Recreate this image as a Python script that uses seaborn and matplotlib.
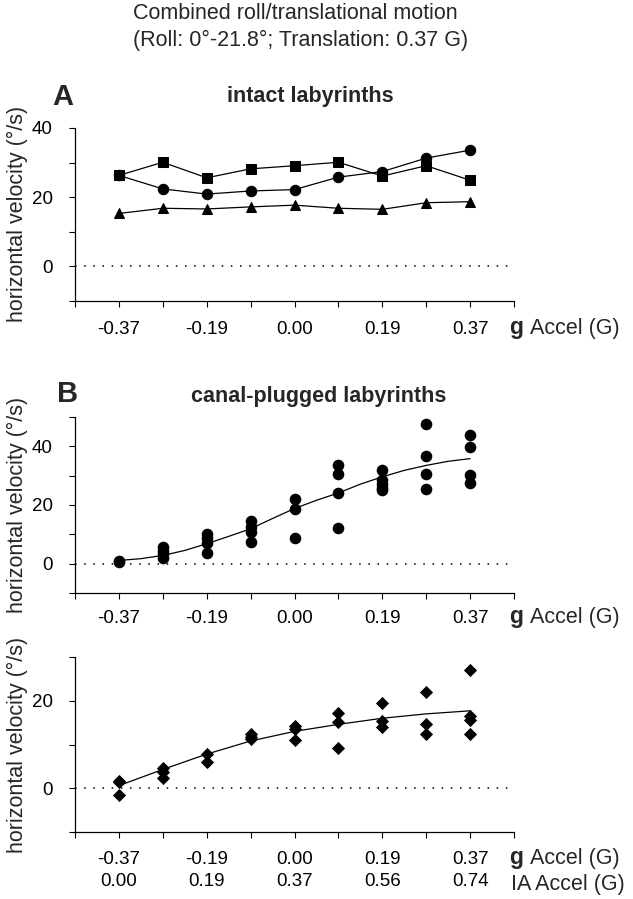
import pandas as pd
import matplotlib
matplotlib.use("Agg")
import matplotlib.pyplot as plt
import seaborn as sns

# x positions are the 9 acceleration steps
steps = list(range(9))
g_labels = ["-0.37", "-0.19", "0.00", "0.19", "0.37"]
ia_labels = ["0.00", "0.19", "0.37", "0.56", "0.74"]

# Panel A - intact labyrinths
intact_square = [26.3, 30.1, 25.6, 28.2, 29.1, 30.1, 26.1, 29.1, 24.9]
intact_circle = [26.3, 22.4, 20.9, 21.8, 22.2, 25.8, 27.4, 31.3, 33.6]
intact_triangle = [15.3, 16.8, 16.6, 17.2, 17.7, 16.8, 16.5, 18.4, 18.7]

# Panel B - canal-plugged labyrinths (points per step)
plugged_circles = [
    [1.0, 0.6],
    [5.7, 4.4, 3.2, 1.9],
    [10.2, 8.9, 7.2, 3.8],
    [14.5, 12.5, 10.8, 7.4],
    [22.2, 18.8, 8.9],
    [33.5, 30.5, 24.1, 12.1],
    [31.8, 28.4, 27.1, 25.9, 25.0],
    [47.5, 36.6, 30.7, 25.6],
    [43.9, 39.8, 30.1, 27.5],
]
circle_fit_x = [0, 0.5, 1, 1.5, 2, 2.5, 3, 3.5, 4, 4.5, 5, 5.5, 6, 6.5, 7, 7.5, 8]
circle_fit = [1.1, 1.7, 2.8, 4.5, 6.8, 9.3, 11.9, 15.4, 18.8, 21.6, 24.1,
              27.1, 29.6, 31.8, 33.5, 34.9, 35.8]

plugged_diamonds = [
    [1.7, 1.4, -1.5],
    [4.6, 3.7, 2.3],
    [7.8, 6.0],
    [12.4, 11.8, 11.2],
    [14.3, 13.6, 11.1],
    [17.3, 15.2, 9.3],
    [19.5, 15.4, 13.9],
    [22.0, 14.6, 12.4],
    [27.1, 16.5, 15.6, 12.4],
]
diamond_fit = [0.6, 4.3, 7.8, 10.8, 13.0, 14.6, 16.0, 17.0, 17.7]


def flatten(groups):
    xs, ys = [], []
    for i, vals in enumerate(groups):
        for v in vals:
            xs.append(i)
            ys.append(v)
    return pd.DataFrame({"step": xs, "vel": ys})


sns.set_style("ticks")
plt.rcParams["font.family"] = ["Liberation Sans", "DejaVu Sans"]
plt.rcParams["font.size"] = 13

W, H = 633, 899
fig = plt.figure(figsize=(W / 100, H / 100), dpi=100)

LABEL_FS = 15.5
TICK_FS = 13.5


def px_axes(top, bottom, left=75, right=514):
    return fig.add_axes([left / W, 1 - bottom / H, (right - left) / W, (bottom - top) / H])


def style_axes(ax, ylim, yticks, ylabels, xpad, two_rows=False):
    ax.set_xlim(-1, 9)
    ax.set_ylim(*ylim)
    for s in ["top", "right"]:
        ax.spines[s].set_visible(False)
    for s in ["left", "bottom"]:
        ax.spines[s].set_color("black")
        ax.spines[s].set_linewidth(0.9)
    ax.set_xticks(list(range(-1, 10)))
    labs = [""] * 11
    for k, lab in enumerate(g_labels):
        labs[1 + 2 * k] = lab + ("\n" + ia_labels[k] if two_rows else "")
    ax.set_xticklabels(labs)
    ax.set_yticks(yticks)
    ax.set_yticklabels(ylabels)
    ax.tick_params(axis="both", direction="out", length=4, width=0.8,
                   color="black", labelsize=TICK_FS, labelcolor="black")
    ax.tick_params(axis="x", pad=xpad)
    ax.tick_params(axis="y", pad=12)
    if two_rows:
        for t in ax.get_xticklabels():
            t.set_linespacing(1.4)
    ax.axhline(0, color="black", lw=1.1, ls=(0, (1, 5)))
    ax.set_xlabel("")
    ax.set_ylabel("")
    ax.grid(False)


# ---- Panel A ----
axA = px_axes(128, 301)
dfA = pd.DataFrame({"step": steps, "sq": intact_square,
                    "ci": intact_circle, "tr": intact_triangle})
for col, mk, ms in [("sq", "s", 6.5), ("ci", "o", 7.5), ("tr", "^", 7.5)]:
    sns.lineplot(data=dfA, x="step", y=col, ax=axA, color="black", lw=0.9,
                 marker=mk, markersize=ms, markeredgecolor="black")
style_axes(axA, (-10, 40), [-10, 0, 10, 20, 30, 40],
           ["", "0", "", "20", "", "40"], xpad=10.5)

# ---- Panel B top ----
axB1 = px_axes(417, 593)
sns.scatterplot(data=flatten(plugged_circles), x="step", y="vel", ax=axB1,
                color="black", marker="o", s=70, edgecolor="black", linewidth=0)
sns.lineplot(x=circle_fit_x, y=circle_fit, ax=axB1, color="black", lw=0.9)
style_axes(axB1, (-10, 50), [-10, 0, 10, 20, 30, 40, 50],
           ["", "0", "", "20", "", "40", ""], xpad=8.5)

# ---- Panel B bottom ----
axB2 = px_axes(657, 832)
sns.scatterplot(data=flatten(plugged_diamonds), x="step", y="vel", ax=axB2,
                color="black", marker="D", s=45, edgecolor="black", linewidth=0)
sns.lineplot(x=steps, y=diamond_fit, ax=axB2, color="black", lw=0.9)
style_axes(axB2, (-10, 30), [-10, 0, 10, 20, 30],
           ["", "0", "", "20", ""], xpad=9.5, two_rows=True)


def ftext(x, y, s, **kw):
    fig.text(x / W, 1 - y / H, s, **kw)


# titles and labels
ftext(133, 19, "Combined roll/translational motion", fontsize=LABEL_FS, va="baseline")
ftext(133, 46, "(Roll: 0°-21.8°; Translation: 0.37 G)", fontsize=LABEL_FS, va="baseline")

ftext(52, 105, "A", fontsize=21, weight="bold", va="baseline")
ftext(310, 102, "intact labyrinths", fontsize=LABEL_FS, weight="bold", ha="center", va="baseline")
ftext(57, 402, "B", fontsize=21, weight="bold", va="baseline")
ftext(319, 402, "canal-plugged labyrinths", fontsize=LABEL_FS, weight="bold", ha="center", va="baseline")

for yc in [214, 505, 745]:
    ftext(17, yc, "horizontal velocity (°/s)", fontsize=LABEL_FS, rotation=90,
          ha="center", va="center")

for yb in [334, 623, 864]:
    ftext(509, yb, "g", fontsize=16.5, weight="bold", va="baseline")
    ftext(530, yb, "Accel (G)", fontsize=LABEL_FS, va="baseline")
ftext(511, 890, "IA Accel (G)", fontsize=LABEL_FS, va="baseline")

fig.savefig("out.png", dpi=100)
